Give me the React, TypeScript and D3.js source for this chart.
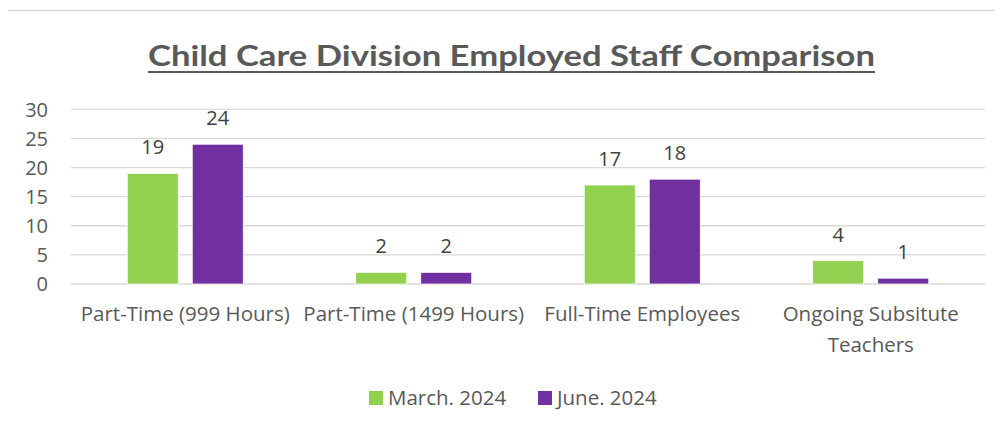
import React from "react";
import * as d3 from "d3";

const categories: string[][] = [
  ["Part-Time (999 Hours)"],
  ["Part-Time (1499 Hours)"],
  ["Full-Time Employees"],
  ["Ongoing Subsitute", "Teachers"],
];
const seriesNames = ["March. 2024", "June. 2024"];
const march2024 = [19, 2, 17, 4];
const june2024 = [24, 2, 18, 1];
const yTicks = [0, 5, 10, 15, 20, 25, 30];
const colors = ["#92d050", "#7030a0"];
const title = "Child Care Division Employed Staff Comparison";

const FONT = "'Open Sans', Lato, sans-serif";
const TEXT = "#595959";

export default function App() {
  const W = 1003, H = 428;
  const left = 71, right = 985, top = 109.3, bottom = 284;
  const x = d3.scaleBand<number>().domain(categories.map((_, i) => i)).range([left, right]).paddingInner(0).paddingOuter(0);
  const y = d3.scaleLinear().domain([0, 30]).range([bottom, top]);
  const bw = 51;
  const gap = 14;
  const series = [march2024, june2024];
  const fs = 20.5;

  return (
    <div style={{ margin: -8 }}>
      <svg width={W} height={H} style={{ display: "block" }} fontFamily={FONT}>
        <rect x={0} y={0} width={W} height={H} fill="#fff" />
        <path d="M4.5,428 V10.5 H1003" fill="none" stroke="#d9d9d9" strokeWidth={1.5} />
        <text x={511.5} y={66} textAnchor="middle" fontSize={29} fontWeight={700} fill={TEXT}
          textLength={727} lengthAdjust="spacingAndGlyphs" fontFamily="Lato, sans-serif">{title}</text>
        <rect x={148} y={71} width={727} height={2} fill={TEXT} />
        {yTicks.map((t) => (
          <g key={t}>
            <line x1={left} x2={right} y1={y(t)} y2={y(t)} stroke="#d9d9d9" strokeWidth={1.3} />
            <text x={48} y={y(t)} dy="0.36em" textAnchor="end" fontSize={20} fill={TEXT}>{t}</text>
          </g>
        ))}
        {categories.map((_, i) => {
          const c = (x(i) as number) + x.bandwidth() / 2;
          return series.map((s, j) => {
            const bx = j === 0 ? c - gap / 2 - bw : c + gap / 2;
            const v = s[i];
            return (
              <g key={`${i}-${j}`}>
                <rect x={bx} y={y(v)} width={bw} height={y(0) - y(v)} fill={colors[j]} stroke="#fff" strokeWidth={0.75} />
                <text x={bx + bw / 2} y={y(v) - 19} textAnchor="middle" fontSize={20} fill="#404040">{v}</text>
              </g>
            );
          });
        })}
        {categories.map((lines, i) => {
          const c = (x(i) as number) + x.bandwidth() / 2;
          return (
            <text key={i} textAnchor="middle" fontSize={fs} fill={TEXT}>
              {lines.map((l, k) => (
                <tspan key={k} x={c} y={321 + k * 31}>{l}</tspan>
              ))}
            </text>
          );
        })}
        {seriesNames.map((n, j) => {
          const lx = j === 0 ? 369 : 538;
          return (
            <g key={n}>
              <rect x={lx} y={391} width={14} height={14} fill={colors[j]} />
              <text x={lx + 19} y={405} fontSize={fs} fill={TEXT}>{n}</text>
            </g>
          );
        })}
      </svg>
    </div>
  );
}
